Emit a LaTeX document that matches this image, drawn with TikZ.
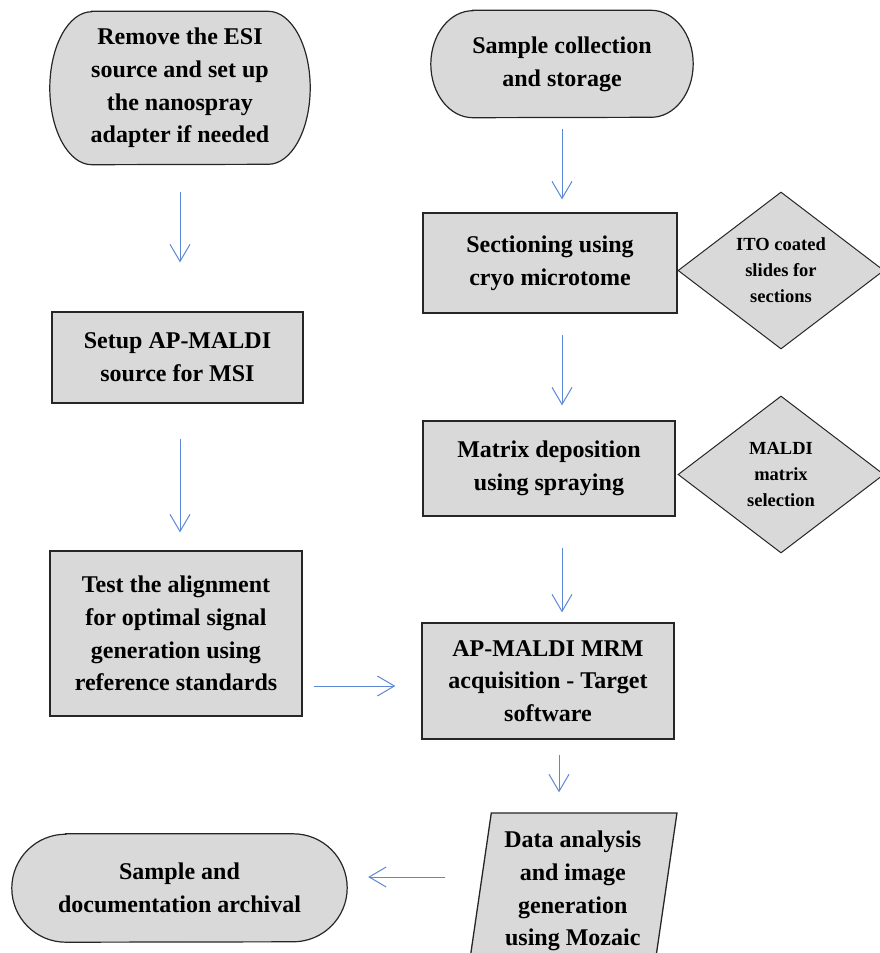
\documentclass[tikz,border=0pt]{standalone}
\usepackage{fontspec}
\setmainfont{Liberation Serif}
\usetikzlibrary{shapes.geometric,arrows.meta,backgrounds}

\definecolor{boxgray}{HTML}{D9D9D9}
\definecolor{flowblue}{RGB}{92,136,214}

\tikzset{
  base/.style={align=center, inner sep=2pt, font=\bfseries\fontsize{24}{32.7}\selectfont},
  outline/.style={draw=black!85, line width=1.3pt, fill=boxgray},
  box/.style={base, rectangle, outline},
  term/.style={base, rectangle},
  decide/.style={base, diamond, aspect=1.3, inner sep=0pt, outline, line width=1pt,
    font=\bfseries\fontsize{18.5}{26}\selectfont},
  iobox/.style={base, trapezium, trapezium left angle=81, trapezium right angle=99,
    trapezium stretches=true, outline},
  flow/.style={draw=flowblue, line width=1pt, -{Straight Barb[length=17pt,width=20pt]}},
}

% terminator outline: node, x radius, y radius
\newcommand{\termshape}[3]{%
  \draw[outline, line width=1.2pt] ([xshift=#2]#1.north west) -- ([xshift=-#2]#1.north east)
    arc[start angle=90, end angle=-90, x radius=#2, y radius=#3]
    -- ([xshift=#2]#1.south west)
    arc[start angle=270, end angle=90, x radius=#2, y radius=#3] -- cycle;}

\begin{document}
\begin{tikzpicture}[x=1pt,y=-1pt]
\useasboundingbox (0,0) rectangle (880,953);

% left column
\node[term, minimum width=260pt, minimum height=153pt] (esi) at (180,88)
  {Remove the ESI\\source and set up\\the nanospray\\adapter if needed};
\node[box, minimum width=251pt, minimum height=91pt] (setup) at (177.5,357.5)
  {Setup AP-MALDI\\source for MSI};
\node[box, minimum width=252pt, minimum height=165pt] (test) at (176,633.5)
  {Test the alignment\\for optimal signal\\generation using\\reference standards};
\node[term, minimum width=335pt, minimum height=108pt] (archive) at (179.5,888)
  {Sample and\\documentation archival};

% right column
\node[term, minimum width=262pt, minimum height=107pt] (collect) at (562,64)
  {Sample collection\\and storage};
\node[box, minimum width=254pt, minimum height=100pt] (section) at (550,263)
  {Sectioning using\\cryo microtome};
\node[decide, minimum width=206pt, minimum height=157pt] (ito) at (781,270.5)
  {ITO coated\\slides for\\sections};
\node[box, minimum width=252pt, minimum height=95pt] (matrix) at (549,468.5)
  {Matrix deposition\\using spraying};
\node[decide, minimum width=206pt, minimum height=157pt] (maldisel) at (781,474.5)
  {MALDI\\matrix\\selection};
\node[box, minimum width=252pt, minimum height=116pt] (apmaldi) at (548,681)
  {AP-MALDI MRM\\acquisition - Target\\software};
\node[iobox, minimum width=208.5pt, minimum height=156pt] (data) at (572.75,891)
  {Data analysis\\and image\\generation\\using Mozaic};

\begin{scope}[on background layer]
  \termshape{esi}{42pt}{76.5pt}
  \termshape{collect}{42pt}{53.5pt}
  \termshape{archive}{54pt}{54pt}
\end{scope}

% arrows
\draw[flow, shorten <=27.5pt, shorten >=49pt] (esi.south) -- (esi.south |- setup.north);
\draw[flow, shorten <=35pt, shorten >=18pt] (esi.south |- setup.south) -- (esi.south |- test.north);
\draw[flow, shorten <=11.5pt, shorten >=13pt] (collect.south) -- (collect.south |- section.north);
\draw[flow, shorten <=21pt, shorten >=15pt] (collect.south |- section.south) -- (collect.south |- matrix.north);
\draw[flow, shorten <=31pt, shorten >=10pt] (collect.south |- matrix.south) -- (collect.south |- apmaldi.north);
\draw[flow, shorten <=15pt, shorten >=20pt] ([xshift=-3pt]collect.south |- apmaldi.south) -- ([xshift=-3pt]collect.south |- data.north);
\draw[flow, shorten <=11pt, shorten >=26pt] ([yshift=-5pt]apmaldi.west -| test.east) -- ([yshift=-5pt]apmaldi.west);
\draw[flow, shorten <=34pt, shorten >=21pt] ([yshift=11pt]archive.east -| data.west) -- ([yshift=11pt]archive.east);
\end{tikzpicture}
\end{document}
